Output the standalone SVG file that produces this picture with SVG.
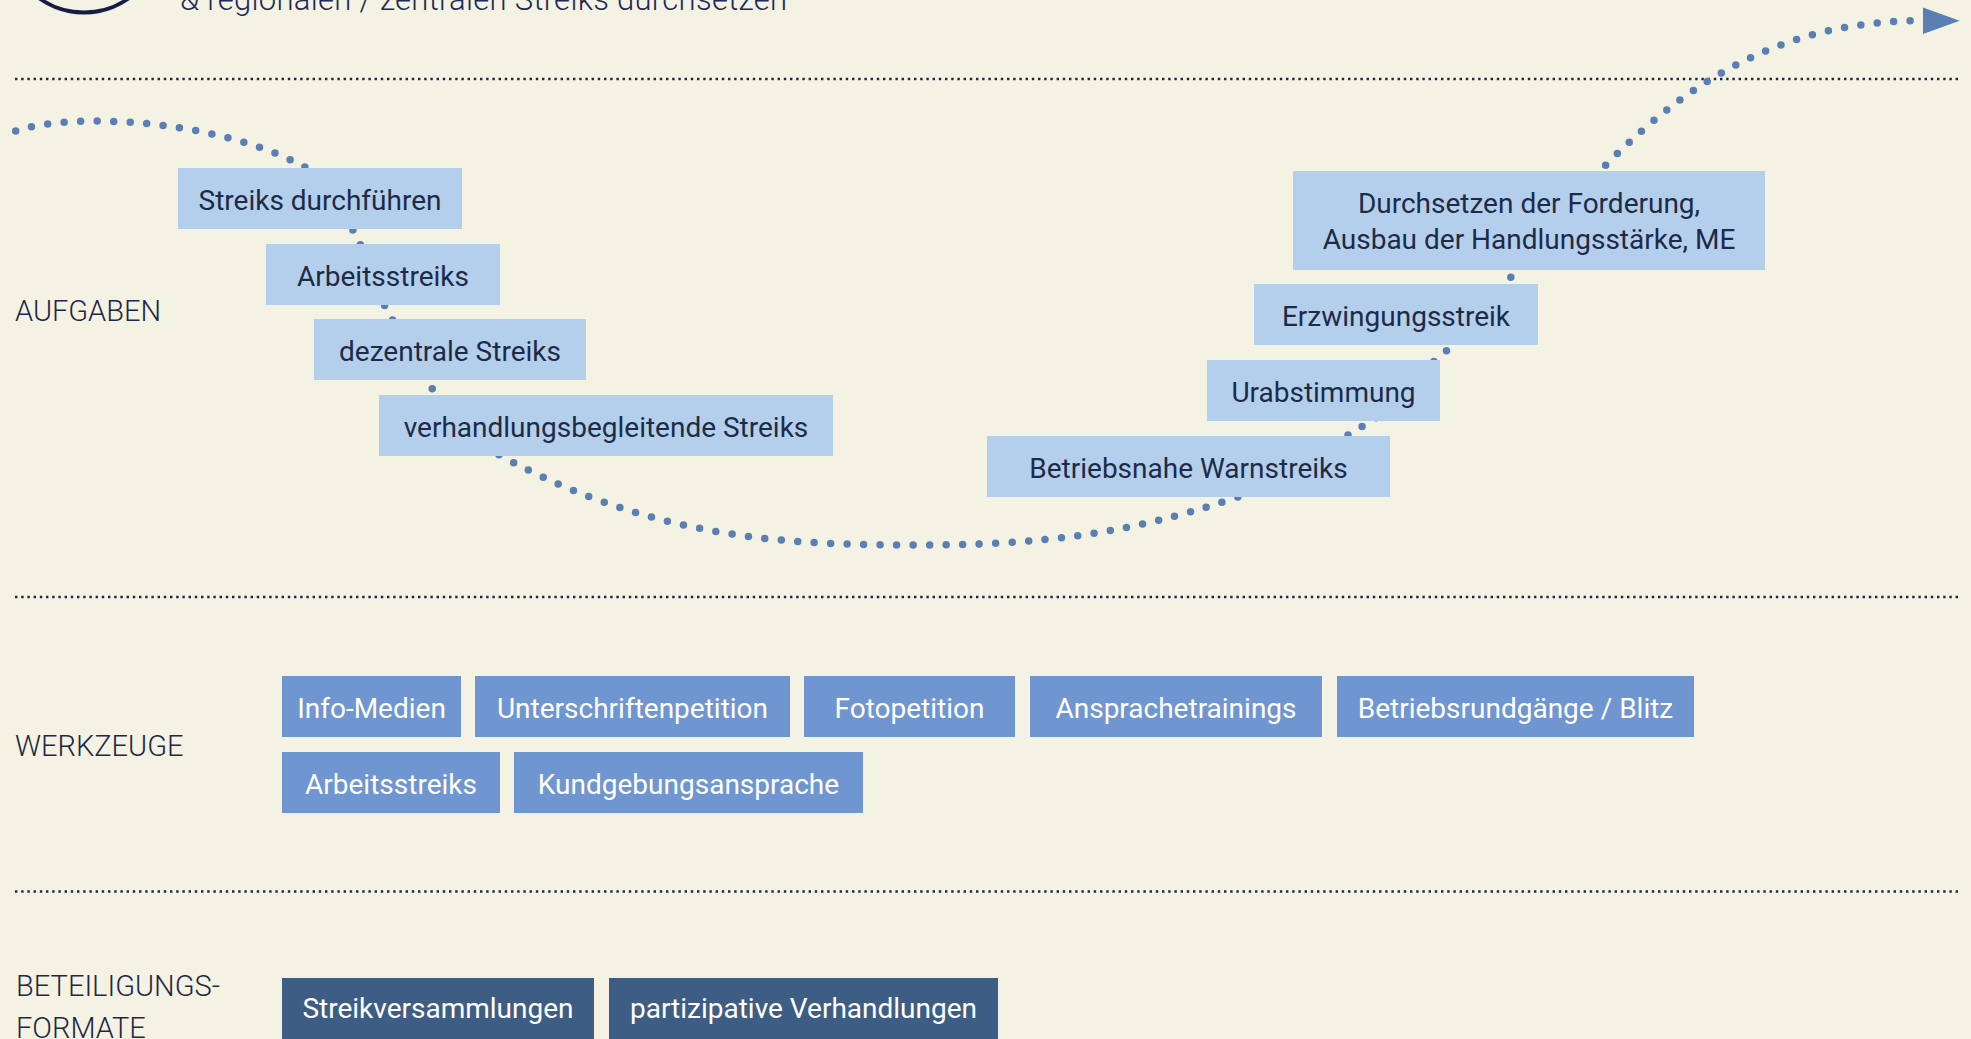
<svg xmlns="http://www.w3.org/2000/svg" width="1971" height="1039" viewBox="0 0 1971 1039">
  <defs>
    <style>
      .bg { fill: #f4f2e2; }
      .sep { stroke: #1f2545; stroke-width: 2.4; stroke-dasharray: 2.4 3.8; fill: none; }
      .flow { stroke: #5a7fb5; stroke-width: 7.5; stroke-linecap: round; stroke-dasharray: 0 16.5; fill: none; }
      .section { font-family: Roboto, "Liberation Sans", sans-serif; font-weight: 300; font-size: 29px; fill: #1d2747; }
      .title { font-family: Roboto, "Liberation Sans", sans-serif; font-weight: 300; font-size: 31px; fill: #1d2a5a; }
      .task rect { fill: #b4cfec; }
      .task text { font-family: Roboto, "Liberation Sans", sans-serif; font-size: 28px; fill: #1d2b47; text-anchor: middle; }
      .tool rect { fill: #6f96d1; }
      .tool text { font-family: Roboto, "Liberation Sans", sans-serif; font-size: 28px; fill: #ffffff; text-anchor: middle; }
      .format rect { fill: #3e5d85; }
      .format text { font-family: Roboto, "Liberation Sans", sans-serif; font-size: 28px; fill: #ffffff; text-anchor: middle; }
    </style>
    <marker id="arrow" markerUnits="userSpaceOnUse" markerWidth="38" markerHeight="27" refX="0" refY="13.3" orient="auto">
      <path d="M0,0 L37,13.3 L0,26.6 Z" fill="#5a7fb5"/>
    </marker>
  </defs>

  <rect class="bg" x="0" y="0" width="1971" height="1039"/>

  <!-- header: logo ring and second title line -->
  <g id="header">
    <circle cx="84" cy="-64.5" r="77" fill="none" stroke="#161d45" stroke-width="4"/>
    <text class="title" x="180" y="10" textLength="607" lengthAdjust="spacing">&amp; regionalen / zentralen Streiks durchsetzen</text>
  </g>

  <!-- section dividers -->
  <g id="dividers">
    <line class="sep" x1="15" y1="79" x2="1958" y2="79"/>
    <line class="sep" x1="15" y1="597" x2="1958" y2="597"/>
    <line class="sep" x1="15" y1="891.5" x2="1958" y2="891.5"/>
  </g>

  <!-- section labels -->
  <g id="labels">
    <text class="section" x="15" y="321">AUFGABEN</text>
    <text class="section" x="15" y="756">WERKZEUGE</text>
    <text class="section" x="16" y="996">BETEILIGUNGS-</text>
    <text class="section" x="16" y="1038">FORMATE</text>
  </g>

  <!-- dotted path linking the tasks -->
  <g id="connectors">
    <path id="c-start" class="flow" d="M15.7,131 C70,112 220,118 310,170 L330,185"/>
    <path id="c-t1-t2" class="flow" d="M338,200.6 L368.4,260.7"/>
    <path id="c-t2-t3" class="flow" d="M368.7,276.6 L400.5,334.4"/>
    <path id="c-t3-t4" class="flow" d="M412.5,362.4 L442.2,402.2"/>
    <path id="c-t4-t8" class="flow" d="M470,439 L503,457 C652,537.5 782,545 912,545 C1042,545 1123,535 1233,498.7 L1260,489"/>
    <path id="c-t8-t7" class="flow" d="M1319.9,452.3 L1390.2,409.1"/>
    <path id="c-t7-t6" class="flow" d="M1408.8,382.8 L1471.6,329.3"/>
    <path id="c-t6-t5" class="flow" d="M1489,302 L1532.6,252.6"/>
    <path id="c-t5-end" class="flow" marker-end="url(#arrow)" d="M1582.6,189 L1605.7,165.3 C1703.7,64.5 1802.7,20.7 1922.7,20.7"/>
  </g>

  <!-- tasks -->
  <g id="task-streiks-durchfuehren" class="task">
    <rect x="178" y="168" width="284" height="61"/>
    <text x="320" y="210">Streiks durchführen</text>
  </g>
  <g id="task-arbeitsstreiks" class="task">
    <rect x="266" y="244" width="234" height="61"/>
    <text x="383" y="286">Arbeitsstreiks</text>
  </g>
  <g id="task-dezentrale-streiks" class="task">
    <rect x="314" y="319" width="272" height="61"/>
    <text x="450" y="361">dezentrale Streiks</text>
  </g>
  <g id="task-verhandlungsbegleitende-streiks" class="task">
    <rect x="379" y="395" width="454" height="61"/>
    <text x="606" y="437">verhandlungsbegleitende Streiks</text>
  </g>
  <g id="task-betriebsnahe-warnstreiks" class="task">
    <rect x="987" y="436" width="403" height="61"/>
    <text x="1188.5" y="478">Betriebsnahe Warnstreiks</text>
  </g>
  <g id="task-urabstimmung" class="task">
    <rect x="1207" y="360" width="233" height="61"/>
    <text x="1323.5" y="402">Urabstimmung</text>
  </g>
  <g id="task-erzwingungsstreik" class="task">
    <rect x="1254" y="284" width="284" height="61"/>
    <text x="1396" y="326">Erzwingungsstreik</text>
  </g>
  <g id="task-durchsetzen" class="task">
    <rect x="1293" y="171" width="472" height="99"/>
    <text x="1529" y="213">Durchsetzen der Forderung,</text>
    <text x="1529" y="249">Ausbau der Handlungsstärke, ME</text>
  </g>

  <!-- tools -->
  <g id="tool-info-medien" class="tool">
    <rect x="282" y="676" width="179" height="61"/>
    <text x="371.5" y="718">Info-Medien</text>
  </g>
  <g id="tool-unterschriftenpetition" class="tool">
    <rect x="475" y="676" width="315" height="61"/>
    <text x="632.5" y="718">Unterschriftenpetition</text>
  </g>
  <g id="tool-fotopetition" class="tool">
    <rect x="804" y="676" width="211" height="61"/>
    <text x="909.5" y="718">Fotopetition</text>
  </g>
  <g id="tool-ansprachetrainings" class="tool">
    <rect x="1030" y="676" width="292" height="61"/>
    <text x="1176" y="718">Ansprachetrainings</text>
  </g>
  <g id="tool-betriebsrundgaenge" class="tool">
    <rect x="1337" y="676" width="357" height="61"/>
    <text x="1515.5" y="718">Betriebsrundgänge / Blitz</text>
  </g>
  <g id="tool-arbeitsstreiks" class="tool">
    <rect x="282" y="752" width="218" height="61"/>
    <text x="391" y="794">Arbeitsstreiks</text>
  </g>
  <g id="tool-kundgebungsansprache" class="tool">
    <rect x="514" y="752" width="349" height="61"/>
    <text x="688.5" y="794">Kundgebungsansprache</text>
  </g>

  <!-- participation formats -->
  <g id="format-streikversammlungen" class="format">
    <rect x="282" y="978" width="312" height="70"/>
    <text x="438" y="1018">Streikversammlungen</text>
  </g>
  <g id="format-partizipative-verhandlungen" class="format">
    <rect x="609" y="978" width="389" height="70"/>
    <text x="803.5" y="1018">partizipative Verhandlungen</text>
  </g>
</svg>
